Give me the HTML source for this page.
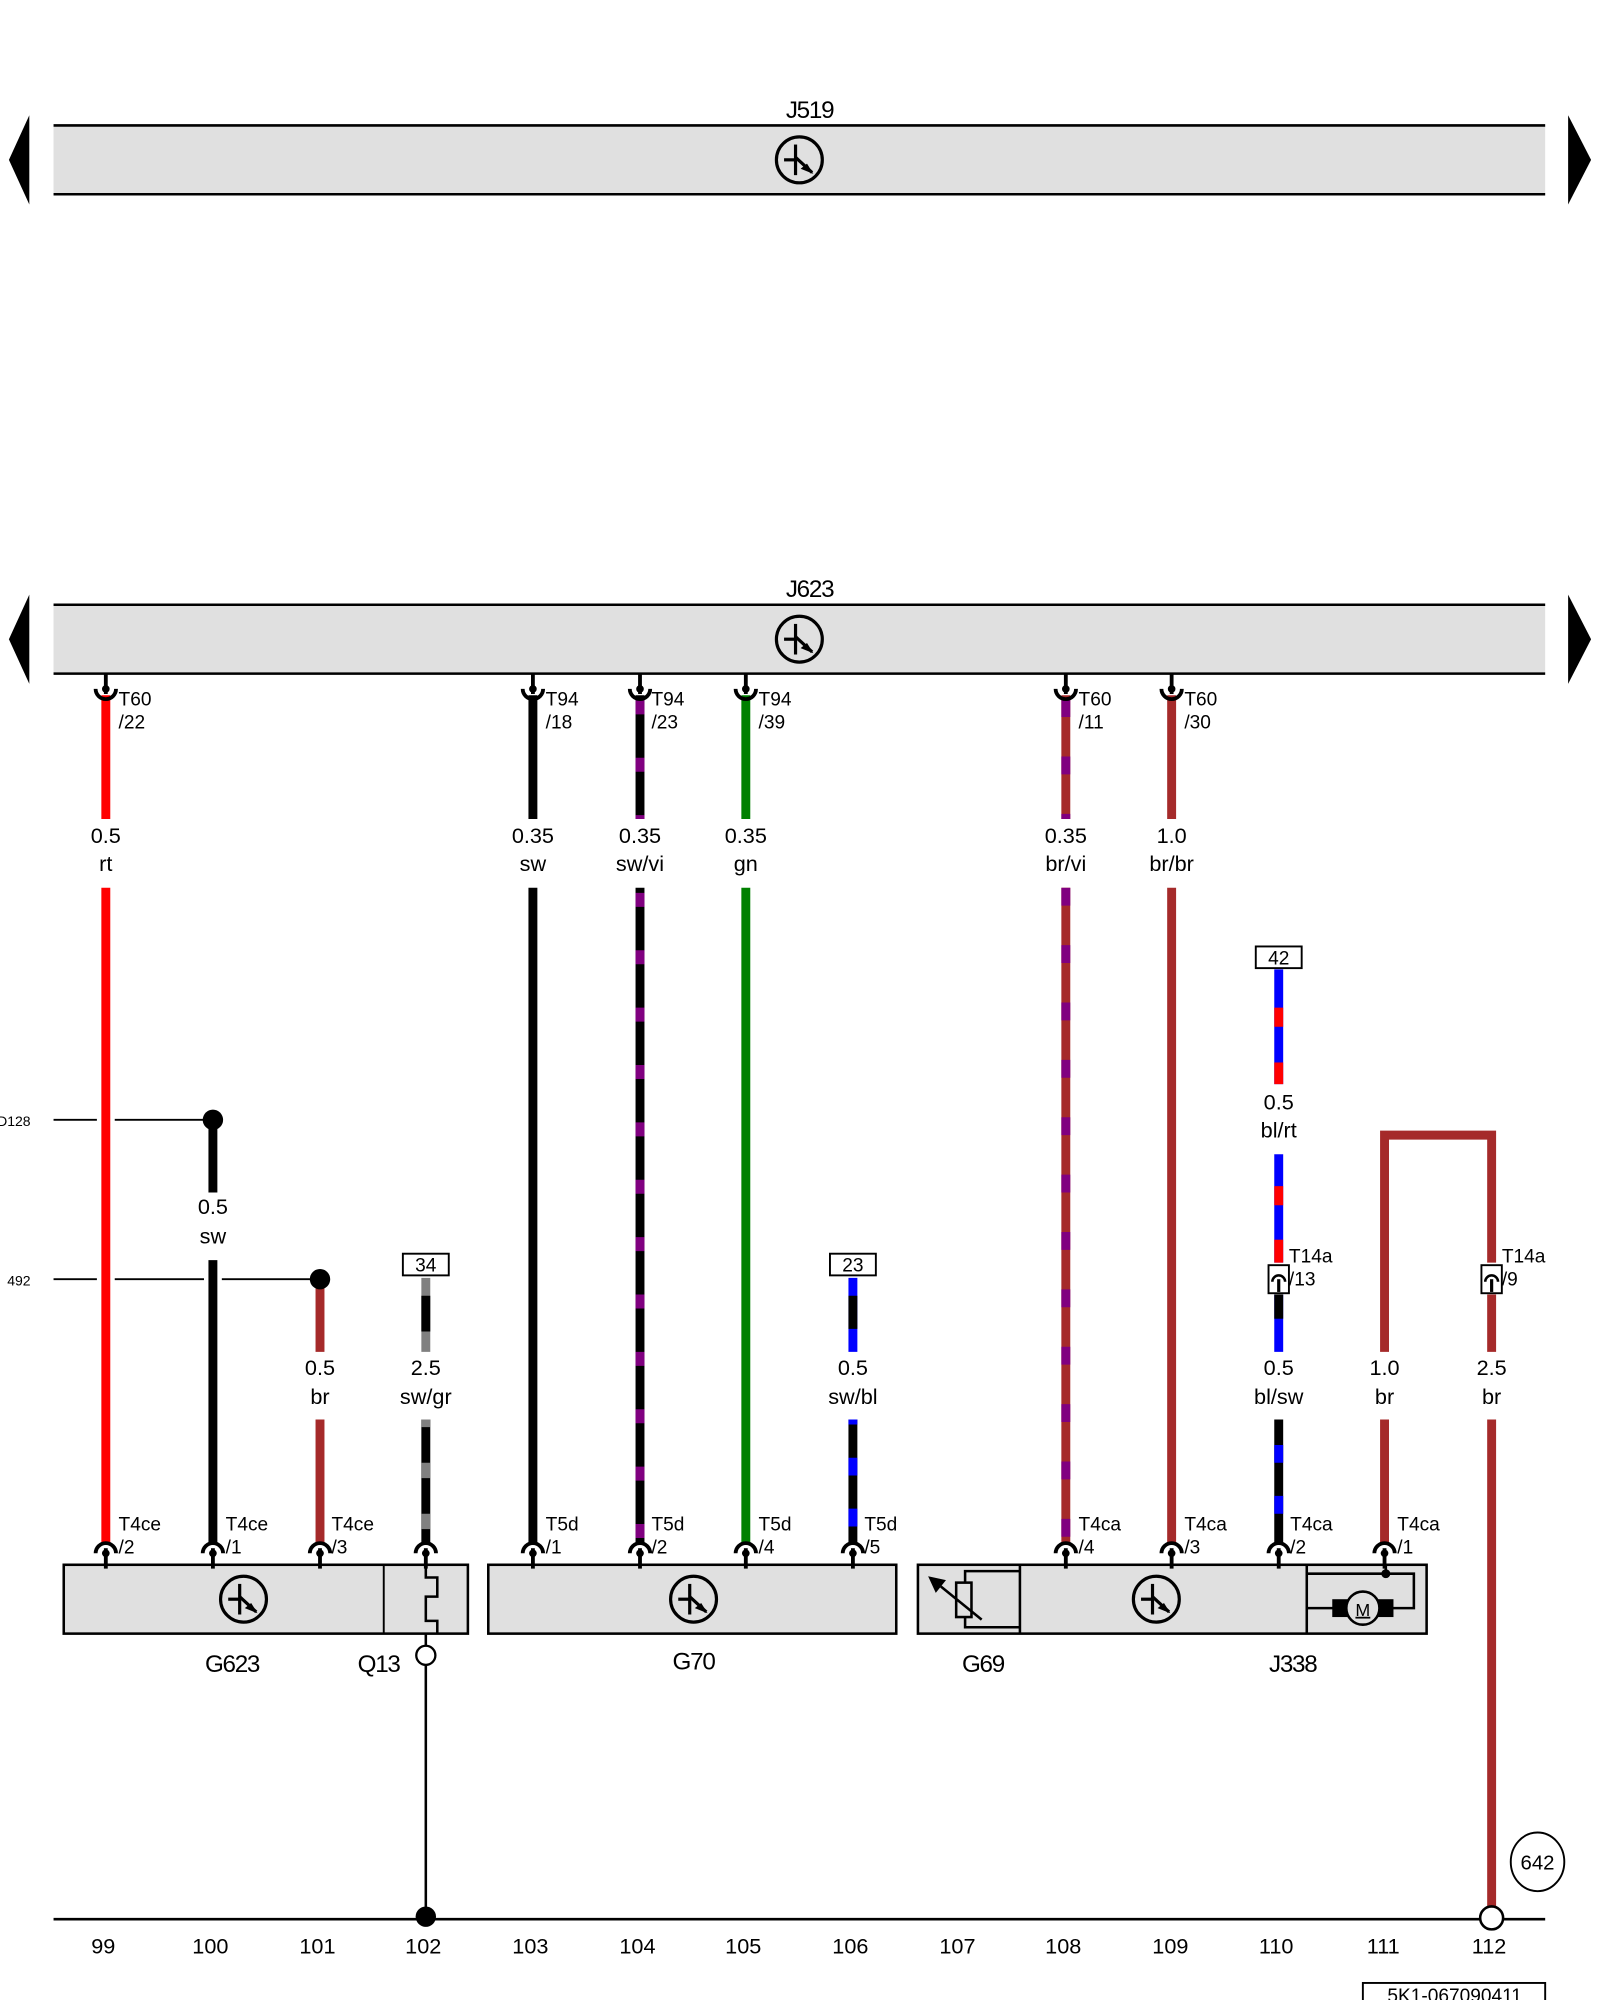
<!DOCTYPE html>
<html><head><meta charset="utf-8"><style>
html,body{margin:0;padding:0;background:#fff}
svg{display:block}
text{font-family:"Liberation Sans",sans-serif;fill:#000}
.wl{font-size:17px;text-anchor:middle}
.pl{font-size:15px;font-family:"Liberation Sans Narrow","Liberation Sans",sans-serif}
.cn{font-size:19px;text-anchor:middle;letter-spacing:-1px}
.nm{font-size:17px;text-anchor:middle}
</style></head><body>
<svg width="1600" height="2000" viewBox="0 0 1255 1568" xmlns="http://www.w3.org/2000/svg">
<defs>
<g id="tr"><circle r="18" fill="none" stroke="#000" stroke-width="2.5"/><line x1="-3" y1="-12" x2="-3" y2="12" stroke="#000" stroke-width="2.5"/><line x1="-12" y1="0" x2="-3" y2="0" stroke="#000" stroke-width="2.5"/><line x1="-3" y1="-2" x2="10" y2="10" stroke="#000" stroke-width="2.5"/><path d="M11 11 L1 7 L6 3 Z" fill="#000"/></g>
<g id="ct"><line x1="0" y1="-12" x2="0" y2="4" stroke="#000" stroke-width="3"/><circle cx="0" cy="0" r="3" fill="#000"/><path d="M-8 0 A8 8 0 0 0 8 0" fill="none" stroke="#000" stroke-width="3"/></g>
<g id="cb"><line x1="0" y1="-4" x2="0" y2="12" stroke="#000" stroke-width="3"/><circle cx="0" cy="0" r="3" fill="#000"/><path d="M-8 0 A8 8 0 0 1 8 0" fill="none" stroke="#000" stroke-width="3"/></g>
</defs>

<rect x="42" y="98" width="1170" height="54" fill="#e0e0e0"/>
<line x1="42" y1="98" x2="1212" y2="98" stroke="#000" stroke-width="2"/>
<line x1="42" y1="152" x2="1212" y2="152" stroke="#000" stroke-width="2"/>
<path d="M23 90 L7 125 L23 160 Z"/><path d="M1230 90 L1248 125 L1230 160 Z"/>
<use href="#tr" x="627" y="125"/>
<text x="635" y="92" class="cn">J519</text>

<rect x="42" y="474" width="1170" height="54" fill="#e0e0e0"/>
<line x1="42" y1="474" x2="1212" y2="474" stroke="#000" stroke-width="2"/>
<line x1="42" y1="528" x2="1212" y2="528" stroke="#000" stroke-width="2"/>
<path d="M23 466 L7 501 L23 536 Z"/><path d="M1230 466 L1248 501 L1230 536 Z"/>
<use href="#tr" x="627" y="501"/>
<text x="635" y="468" class="cn">J623</text>

<text x="24" y="883" font-size="11" text-anchor="end">D128</text>
<text x="24" y="1008" font-size="11" text-anchor="end">492</text>
<line x1="42" y1="878" x2="76" y2="878" stroke="#000" stroke-width="1.5"/>
<line x1="90" y1="878" x2="167" y2="878" stroke="#000" stroke-width="1.5"/>
<line x1="42" y1="1003" x2="76" y2="1003" stroke="#000" stroke-width="1.5"/>
<line x1="90" y1="1003" x2="160" y2="1003" stroke="#000" stroke-width="1.5"/>
<line x1="174" y1="1003" x2="251" y2="1003" stroke="#000" stroke-width="1.5"/>

<g stroke-width="7" fill="none">
<line x1="83" y1="545" x2="83" y2="642" stroke="#ff0000"/>
<line x1="83" y1="696" x2="83" y2="1210" stroke="#ff0000"/>
<line x1="167" y1="878" x2="167" y2="935" stroke="#000"/>
<line x1="167" y1="988" x2="167" y2="1210" stroke="#000"/>
<line x1="251" y1="1003" x2="251" y2="1060" stroke="#a52a2a"/>
<line x1="251" y1="1113" x2="251" y2="1210" stroke="#a52a2a"/>
<line x1="334" y1="1002" x2="334" y2="1060" stroke="#808080"/>
<line x1="334" y1="1016" x2="334" y2="1044" stroke="#000"/>
<line x1="334" y1="1113" x2="334" y2="1210" stroke="#000"/>
<line x1="334" y1="1113" x2="334" y2="1210" stroke="#808080" stroke-dasharray="12 28" stroke-dashoffset="-34"/>
<line x1="418" y1="545" x2="418" y2="642" stroke="#000"/>
<line x1="418" y1="696" x2="418" y2="1210" stroke="#000"/>
<line x1="502" y1="545" x2="502" y2="642" stroke="#000"/>
<line x1="502" y1="545" x2="502" y2="642" stroke="#800080" stroke-dasharray="11 34" stroke-dashoffset="-4"/>
<line x1="502" y1="696" x2="502" y2="1210" stroke="#000"/>
<line x1="502" y1="696" x2="502" y2="1210" stroke="#800080" stroke-dasharray="11 34" stroke-dashoffset="-4"/>
<line x1="585" y1="545" x2="585" y2="642" stroke="#008000"/>
<line x1="585" y1="696" x2="585" y2="1210" stroke="#008000"/>
<line x1="669" y1="1002" x2="669" y2="1060" stroke="#0000ff"/>
<line x1="669" y1="1016" x2="669" y2="1042" stroke="#000"/>
<line x1="669" y1="1113" x2="669" y2="1210" stroke="#000"/>
<line x1="669" y1="1113" x2="669" y2="1210" stroke="#0000ff" stroke-dasharray="14 26" stroke-dashoffset="-30"/>
<line x1="836" y1="545" x2="836" y2="642" stroke="#a52a2a"/>
<line x1="836" y1="545" x2="836" y2="642" stroke="#800080" stroke-dasharray="14 31" stroke-dashoffset="-3"/>
<line x1="836" y1="696" x2="836" y2="1210" stroke="#a52a2a"/>
<line x1="836" y1="696" x2="836" y2="1210" stroke="#800080" stroke-dasharray="14 31"/>
<line x1="919" y1="545" x2="919" y2="642" stroke="#a52a2a"/>
<line x1="919" y1="696" x2="919" y2="1210" stroke="#a52a2a"/>
<line x1="1003" y1="760" x2="1003" y2="850" stroke="#0000ff"/>
<line x1="1003" y1="790" x2="1003" y2="805" stroke="#ff0000"/>
<line x1="1003" y1="833" x2="1003" y2="850" stroke="#ff0000"/>
<line x1="1003" y1="905" x2="1003" y2="990" stroke="#0000ff"/>
<line x1="1003" y1="930" x2="1003" y2="945" stroke="#ff0000"/>
<line x1="1003" y1="972" x2="1003" y2="990" stroke="#ff0000"/>
<line x1="1003" y1="1015" x2="1003" y2="1060" stroke="#0000ff"/>
<line x1="1003" y1="1015" x2="1003" y2="1034" stroke="#000"/>
<line x1="1003" y1="1113" x2="1003" y2="1210" stroke="#000"/>
<line x1="1003" y1="1113" x2="1003" y2="1210" stroke="#0000ff" stroke-dasharray="14 26" stroke-dashoffset="-20"/>
<path d="M1086 1060 L1086 890 L1170 890 L1170 990" stroke="#a52a2a"/>
<line x1="1086" y1="1113" x2="1086" y2="1210" stroke="#a52a2a"/>
<line x1="1170" y1="1015" x2="1170" y2="1060" stroke="#a52a2a"/>
<line x1="1170" y1="1113" x2="1170" y2="1495" stroke="#a52a2a"/>
</g>

<circle cx="167" cy="878" r="8"/>
<circle cx="251" cy="1003" r="8"/>

<rect x="316" y="983" width="36" height="17" fill="#fff" stroke="#000" stroke-width="1.5"/><text x="334" y="997" font-size="15" text-anchor="middle">34</text>
<rect x="651" y="983" width="36" height="17" fill="#fff" stroke="#000" stroke-width="1.5"/><text x="669" y="997" font-size="15" text-anchor="middle">23</text>
<rect x="985" y="742" width="36" height="17" fill="#fff" stroke="#000" stroke-width="1.5"/><text x="1003" y="756" font-size="15" text-anchor="middle">42</text>

<rect x="995" y="992" width="16" height="22" fill="#fff" stroke="#000" stroke-width="1.5"/>
<path d="M998 1005 A5 5 0 0 1 1008 1005" fill="none" stroke="#000" stroke-width="2"/><line x1="1003" y1="1003" x2="1003" y2="1013" stroke="#000" stroke-width="2.5"/>
<rect x="1162" y="992" width="16" height="22" fill="#fff" stroke="#000" stroke-width="1.5"/>
<path d="M1165 1005 A5 5 0 0 1 1175 1005" fill="none" stroke="#000" stroke-width="2"/><line x1="1170" y1="1003" x2="1170" y2="1013" stroke="#000" stroke-width="2.5"/>
<text x="1011" y="990" class="pl">T14a</text><text x="1011" y="1008" class="pl">/13</text>
<text x="1178" y="990" class="pl">T14a</text><text x="1178" y="1008" class="pl">/9</text>

<g>
<use href="#ct" x="83" y="540"/><use href="#ct" x="418" y="540"/><use href="#ct" x="502" y="540"/><use href="#ct" x="585" y="540"/><use href="#ct" x="836" y="540"/><use href="#ct" x="919" y="540"/>
<text x="93" y="553" class="pl">T60</text><text x="93" y="571" class="pl">/22</text>
<text x="428" y="553" class="pl">T94</text><text x="428" y="571" class="pl">/18</text>
<text x="511" y="553" class="pl">T94</text><text x="511" y="571" class="pl">/23</text>
<text x="595" y="553" class="pl">T94</text><text x="595" y="571" class="pl">/39</text>
<text x="846" y="553" class="pl">T60</text><text x="846" y="571" class="pl">/11</text>
<text x="929" y="553" class="pl">T60</text><text x="929" y="571" class="pl">/30</text>
</g>

<text x="83" y="661" class="wl">0.5</text><text x="83" y="683" class="wl">rt</text>
<text x="418" y="661" class="wl">0.35</text><text x="418" y="683" class="wl">sw</text>
<text x="502" y="661" class="wl">0.35</text><text x="502" y="683" class="wl">sw/vi</text>
<text x="585" y="661" class="wl">0.35</text><text x="585" y="683" class="wl">gn</text>
<text x="836" y="661" class="wl">0.35</text><text x="836" y="683" class="wl">br/vi</text>
<text x="919" y="661" class="wl">1.0</text><text x="919" y="683" class="wl">br/br</text>
<text x="1003" y="870" class="wl">0.5</text><text x="1003" y="892" class="wl">bl/rt</text>
<text x="167" y="952" class="wl">0.5</text><text x="167" y="975" class="wl">sw</text>
<text x="251" y="1078" class="wl">0.5</text><text x="251" y="1101" class="wl">br</text>
<text x="334" y="1078" class="wl">2.5</text><text x="334" y="1101" class="wl">sw/gr</text>
<text x="669" y="1078" class="wl">0.5</text><text x="669" y="1101" class="wl">sw/bl</text>
<text x="1003" y="1078" class="wl">0.5</text><text x="1003" y="1101" class="wl">bl/sw</text>
<text x="1086" y="1078" class="wl">1.0</text><text x="1086" y="1101" class="wl">br</text>
<text x="1170" y="1078" class="wl">2.5</text><text x="1170" y="1101" class="wl">br</text>

<g fill="#e0e0e0" stroke="#000" stroke-width="2">
<rect x="50" y="1227" width="317" height="54"/>
<rect x="383" y="1227" width="320" height="54"/>
<rect x="720" y="1227" width="399" height="54"/>
</g>
<line x1="301" y1="1227" x2="301" y2="1281" stroke="#000" stroke-width="1.5"/>
<line x1="800" y1="1227" x2="800" y2="1281" stroke="#000" stroke-width="2"/>
<line x1="1025" y1="1227" x2="1025" y2="1281" stroke="#000" stroke-width="2"/>
<use href="#tr" x="191" y="1254"/><use href="#tr" x="544" y="1254"/><use href="#tr" x="907" y="1254"/>
<path d="M334 1227 L334 1237 L343 1237 L343 1252 L334 1252 L334 1271 L343 1271 L343 1281 M334 1281 L334 1290" fill="none" stroke="#000" stroke-width="2"/>
<line x1="334" y1="1305" x2="334" y2="1505" stroke="#000" stroke-width="2"/>
<circle cx="334" cy="1298" r="7.5" fill="#fff" stroke="#000" stroke-width="1.8"/>
<path d="M800 1232 L757 1232 L757 1241 M757 1268 L757 1276 L800 1276" fill="none" stroke="#000" stroke-width="2"/>
<rect x="750" y="1241" width="12" height="27" fill="#e0e0e0" stroke="#000" stroke-width="2"/>
<line x1="738" y1="1244" x2="770" y2="1270" stroke="#000" stroke-width="2"/>
<path d="M728 1236 L742 1239 L734 1249 Z"/>
<path d="M1025 1234 L1109 1234 L1109 1261 L1092 1261 M1025 1261 L1046 1261" fill="none" stroke="#000" stroke-width="2"/>
<circle cx="1087" cy="1234" r="3.5"/>
<line x1="1087" y1="1227" x2="1087" y2="1234" stroke="#000" stroke-width="2"/>
<rect x="1045" y="1254" width="48" height="14"/>
<circle cx="1069" cy="1261" r="13" fill="#e0e0e0" stroke="#000" stroke-width="2"/>
<text x="1069" y="1267" font-size="14" text-anchor="middle" text-decoration="underline">M</text>

<use href="#cb" x="83" y="1218"/><use href="#cb" x="167" y="1218"/><use href="#cb" x="251" y="1218"/><use href="#cb" x="334" y="1218"/>
<use href="#cb" x="418" y="1218"/><use href="#cb" x="502" y="1218"/><use href="#cb" x="585" y="1218"/><use href="#cb" x="669" y="1218"/>
<use href="#cb" x="836" y="1218"/><use href="#cb" x="919" y="1218"/><use href="#cb" x="1003" y="1218"/><use href="#cb" x="1086" y="1218"/>
<g class="pl">
<text x="93" y="1200" class="pl">T4ce</text><text x="93" y="1218" class="pl">/2</text>
<text x="177" y="1200" class="pl">T4ce</text><text x="177" y="1218" class="pl">/1</text>
<text x="260" y="1200" class="pl">T4ce</text><text x="260" y="1218" class="pl">/3</text>
<text x="428" y="1200" class="pl">T5d</text><text x="428" y="1218" class="pl">/1</text>
<text x="511" y="1200" class="pl">T5d</text><text x="511" y="1218" class="pl">/2</text>
<text x="595" y="1200" class="pl">T5d</text><text x="595" y="1218" class="pl">/4</text>
<text x="678" y="1200" class="pl">T5d</text><text x="678" y="1218" class="pl">/5</text>
<text x="846" y="1200" class="pl">T4ca</text><text x="846" y="1218" class="pl">/4</text>
<text x="929" y="1200" class="pl">T4ca</text><text x="929" y="1218" class="pl">/3</text>
<text x="1012" y="1200" class="pl">T4ca</text><text x="1012" y="1218" class="pl">/2</text>
<text x="1096" y="1200" class="pl">T4ca</text><text x="1096" y="1218" class="pl">/1</text>
</g>
<text x="182" y="1311" class="cn">G623</text>
<text x="297" y="1311" class="cn">Q13</text>
<text x="544" y="1309" class="cn">G70</text>
<text x="771" y="1311" class="cn">G69</text>
<text x="1014" y="1311" class="cn">J338</text>

<line x1="42" y1="1505" x2="1212" y2="1505" stroke="#000" stroke-width="2"/>
<circle cx="334" cy="1503" r="8"/>
<circle cx="1170" cy="1504" r="9" fill="#fff" stroke="#000" stroke-width="2"/>
<ellipse cx="1206" cy="1460" rx="21" ry="23" fill="#fff" stroke="#000" stroke-width="1.5"/>
<text x="1206" y="1466" font-size="16" text-anchor="middle">642</text>
<g class="nm">
<text x="81" y="1532" class="nm">99</text><text x="165" y="1532" class="nm">100</text><text x="249" y="1532" class="nm">101</text><text x="332" y="1532" class="nm">102</text>
<text x="416" y="1532" class="nm">103</text><text x="500" y="1532" class="nm">104</text><text x="583" y="1532" class="nm">105</text><text x="667" y="1532" class="nm">106</text>
<text x="751" y="1532" class="nm">107</text><text x="834" y="1532" class="nm">108</text><text x="918" y="1532" class="nm">109</text><text x="1001" y="1532" class="nm">110</text>
<text x="1085" y="1532" class="nm">111</text><text x="1168" y="1532" class="nm">112</text>
</g>
<rect x="1069" y="1555" width="143" height="20" fill="#fff" stroke="#000" stroke-width="1.5"/>
<text x="1141" y="1570" font-size="15" text-anchor="middle">5K1-067090411</text>
</svg>
</body></html>
